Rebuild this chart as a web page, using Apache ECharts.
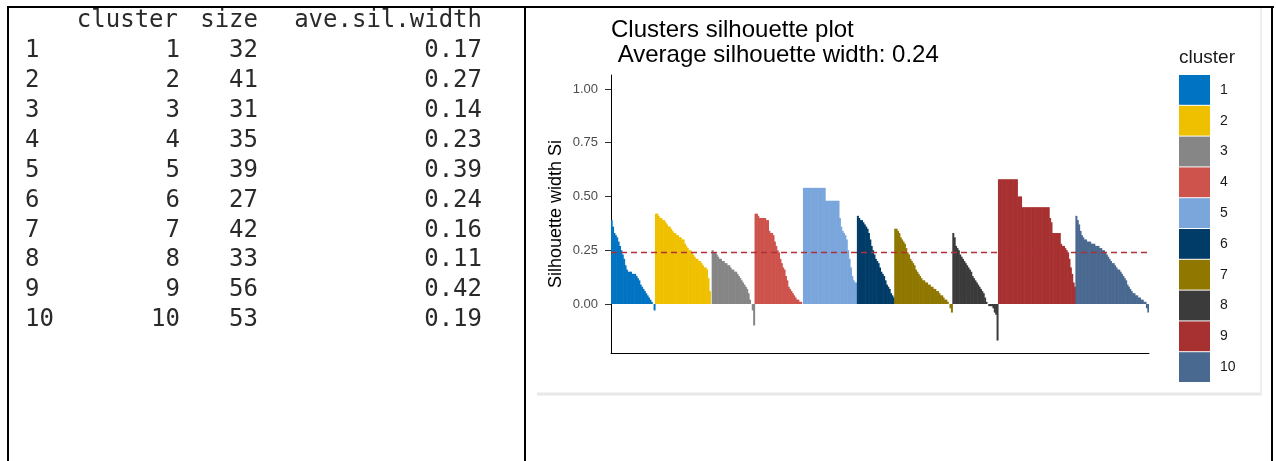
<!DOCTYPE html>
<html>
<head>
<meta charset="utf-8">
<script src="https://cdn.jsdelivr.net/npm/echarts@6/dist/echarts.min.js"></script>
<style>
  html,body{margin:0;padding:0;background:#fff;}
  #main{width:1276px;height:461px;}
</style>
</head>
<body>
<div id="main"></div>
<script>
// summary table (left)
var clusterIds = [1, 2, 3, 4, 5, 6, 7, 8, 9, 10];
var clusterSizes = [32, 41, 31, 35, 39, 27, 42, 33, 56, 53];
var aveSilWidths = ["0.17", "0.27", "0.14", "0.23", "0.39", "0.24", "0.16", "0.11", "0.42", "0.19"];
var avgSilWidth = 0.24;

// silhouette widths per observation, sorted inside each cluster
var sil1 = [0.39,0.36,0.33,0.32,0.31,0.29,0.27,0.25,0.23,0.21,0.18,0.16,0.15,0.15,0.15,0.14,0.14,0.14,0.13,0.12,0.11,0.09,0.08,0.07,0.06,0.05,0.04,0.03,0.02,0.01,0.00,-0.03];
var sil2 = [0.42,0.42,0.41,0.40,0.40,0.39,0.39,0.38,0.37,0.36,0.36,0.35,0.34,0.33,0.33,0.32,0.32,0.31,0.31,0.30,0.30,0.28,0.27,0.26,0.25,0.25,0.24,0.23,0.22,0.21,0.21,0.20,0.20,0.19,0.18,0.17,0.17,0.16,0.12,0.06,0.00];
var sil3 = [0.25,0.24,0.24,0.23,0.22,0.21,0.21,0.20,0.20,0.19,0.19,0.18,0.18,0.17,0.16,0.16,0.15,0.15,0.14,0.13,0.12,0.11,0.10,0.09,0.08,0.07,0.05,0.02,0.00,-0.03,-0.10];
var sil4 = [0.42,0.42,0.41,0.40,0.40,0.40,0.40,0.40,0.39,0.39,0.34,0.33,0.33,0.32,0.29,0.27,0.25,0.24,0.21,0.19,0.17,0.16,0.13,0.11,0.08,0.07,0.06,0.05,0.04,0.03,0.02,0.02,0.01,0.01,0.00];
var sil5 = [0.54,0.54,0.54,0.54,0.54,0.54,0.54,0.54,0.54,0.54,0.54,0.54,0.54,0.54,0.54,0.54,0.48,0.48,0.48,0.48,0.48,0.48,0.48,0.48,0.48,0.48,0.40,0.36,0.34,0.33,0.32,0.30,0.25,0.21,0.17,0.13,0.11,0.10,0.10];
var sil6 = [0.41,0.40,0.39,0.39,0.38,0.37,0.36,0.35,0.33,0.30,0.27,0.25,0.23,0.21,0.20,0.19,0.17,0.15,0.14,0.13,0.11,0.09,0.08,0.07,0.05,0.04,0.03];
var sil7 = [0.35,0.35,0.34,0.33,0.31,0.30,0.29,0.28,0.26,0.24,0.23,0.21,0.20,0.19,0.18,0.16,0.15,0.14,0.13,0.12,0.11,0.11,0.10,0.10,0.09,0.09,0.08,0.08,0.07,0.07,0.06,0.06,0.05,0.04,0.04,0.03,0.02,0.02,0.01,0.00,-0.02,-0.04];
var sil8 = [0.33,0.31,0.27,0.26,0.25,0.23,0.22,0.21,0.20,0.19,0.18,0.17,0.16,0.15,0.13,0.12,0.11,0.10,0.09,0.08,0.07,0.06,0.05,0.03,0.01,0.00,-0.01,-0.01,-0.01,-0.02,-0.04,-0.05,-0.17];
var sil9 = [0.58,0.58,0.58,0.58,0.58,0.58,0.58,0.58,0.58,0.58,0.58,0.58,0.58,0.58,0.50,0.50,0.50,0.45,0.45,0.45,0.45,0.45,0.45,0.45,0.45,0.45,0.45,0.45,0.45,0.45,0.45,0.45,0.45,0.45,0.45,0.45,0.45,0.40,0.38,0.33,0.33,0.33,0.33,0.33,0.33,0.28,0.27,0.27,0.26,0.25,0.24,0.21,0.17,0.14,0.10,0.08];
var sil10 = [0.41,0.39,0.37,0.34,0.32,0.31,0.30,0.30,0.29,0.29,0.29,0.28,0.28,0.28,0.27,0.27,0.27,0.26,0.26,0.25,0.25,0.24,0.23,0.22,0.21,0.20,0.19,0.19,0.18,0.17,0.16,0.16,0.15,0.14,0.13,0.12,0.11,0.09,0.08,0.07,0.06,0.05,0.05,0.04,0.04,0.03,0.03,0.02,0.02,0.01,0.01,-0.02,-0.04];

var yTicks = [0, 0.25, 0.5, 0.75, 1.0];
var jcoColors = ['#0073C2','#EFC000','#868686','#CD534C','#7AA6DC','#003C67','#8F7700','#3B3B3B','#A73030','#4A6990'];

var silByCluster = [sil1, sil2, sil3, sil4, sil5, sil6, sil7, sil8, sil9, sil10];
var total = 0;
silByCluster.forEach(function(s){ total += s.length; });
var obsIndex = [];
for (var i = 0; i < total; i++) obsIndex.push(i + 1);

var chart = echarts.init(document.getElementById("main"));

// one series per cluster, all on the same bar slots
var series = [];
var start = 0;
silByCluster.forEach(function(s, c){
    var data = [];
    for (var i = 0; i < total; i++) data.push('-');
    for (var j = 0; j < s.length; j++) data[start + j] = s[j];
    start += s.length;
    series.push({
        name: String(clusterIds[c]),
        type: "bar",
        barWidth: 2,
        barGap: "-100%",
        silent: true,
        itemStyle: {color: jcoColors[c]},
        data: data
    });
});
series[0].markLine = {
    silent: true,
    symbol: "none",
    label: {show: false},
    lineStyle: {color: "#B0303A", type: [6, 4], width: 1.3},
    data: [{yAxis: avgSilWidth}]
};

// table text
var mono = "DejaVu Sans Mono";
var tableColor = "#2a2a2a";
var graphics = [];
function tableText(str, x, y, align){
    graphics.push({
        type: "text", x: x, y: y, silent: true,
        style: {text: str, fill: tableColor, font: "24px '" + mono + "'", textAlign: align, textVerticalAlign: "middle"}
    });
}
var headY = 21, rowH = 29.9;
tableText("cluster", 178, headY, "right");
tableText("size", 258, headY, "right");
tableText("ave.sil.width", 482, headY, "right");
for (var r = 0; r < clusterIds.length; r++) {
    var y = headY + rowH * (r + 1);
    tableText(String(r + 1), 25, y, "left");
    tableText(String(clusterIds[r]), 180, y, "right");
    tableText(String(clusterSizes[r]), 258, y, "right");
    tableText(aveSilWidths[r], 482, y, "right");
}
// page borders
function line(x1, y1, x2, y2, color, w){
    graphics.push({type: "line", silent: true, shape: {x1: x1, y1: y1, x2: x2, y2: y2}, style: {stroke: color, lineWidth: w}});
}
line(7, 7, 1274, 7, "#000", 2);
line(8, 7, 8, 461, "#000", 2);
line(525, 7, 525, 461, "#000", 2);
line(1272, 7, 1272, 461, "#000", 2);
// plot image frame
line(537, 394, 1262, 394, "#e8e8e8", 3);
line(1261, 8, 1261, 395, "#eeeeee", 2);
// legend title
graphics.push({type: "text", x: 1179, y: 58, silent: true,
    style: {text: "cluster", fill: "#1a1a1a", font: "19px 'Liberation Sans'", textVerticalAlign: "middle"}});

option = {
    animation: false,
    backgroundColor: "#fff",
    title: {
        text: "Clusters silhouette plot\n Average silhouette width: " + avgSilWidth.toFixed(2),
        left: 611,
        top: 18,
        padding: 0,
        textStyle: {
            color: "#000",
            fontFamily: "Liberation Sans",
            fontSize: 24,
            fontWeight: "normal",
            lineHeight: 25
        }
    },
    legend: {
        data: clusterIds.map(String),
        orient: "vertical",
        left: 1179,
        top: 75,
        padding: 0,
        itemWidth: 31,
        itemHeight: 29.8,
        itemGap: 1,
        icon: "rect",
        selectedMode: false,
        textStyle: {color: "#1a1a1a", fontSize: 14, fontFamily: "Liberation Sans", padding: [0, 0, 0, 5]}
    },
    grid: {
        left: 611,
        right: 127,
        top: 75,
        bottom: 108
    },
    xAxis: {
        type: "category",
        data: obsIndex,
        boundaryGap: true,
        axisLine: {onZero: false, lineStyle: {color: "#000", width: 1}},
        axisTick: {show: false},
        axisLabel: {show: false},
        splitLine: {show: false}
    },
    yAxis: {
        type: "value",
        min: -0.228,
        max: 1.065,
        name: "Silhouette width Si",
        nameLocation: "middle",
        nameRotate: 90,
        nameGap: 46,
        nameTextStyle: {color: "#000", fontSize: 18, fontFamily: "Liberation Sans"},
        axisLine: {show: true, lineStyle: {color: "#000", width: 1}},
        axisTick: {show: true, length: 6, customValues: yTicks, lineStyle: {color: "#333"}},
        axisLabel: {
            customValues: yTicks,
            color: "#4D4D4D",
            fontSize: 13,
            fontFamily: "Liberation Sans",
            margin: 13,
            formatter: function(v){ return v.toFixed(2); }
        },
        splitLine: {show: false}
    },
    graphic: graphics,
    series: series
};
chart.setOption(option);
</script>
</body>
</html>
